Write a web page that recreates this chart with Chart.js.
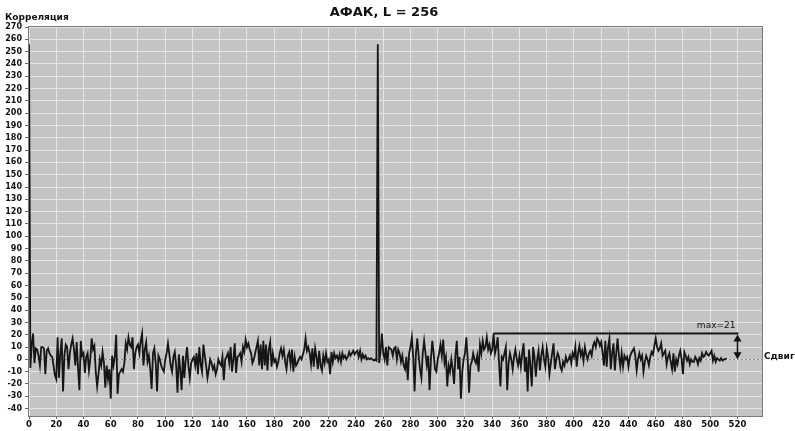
<!DOCTYPE html>
<html><head><meta charset="utf-8">
<script src="https://cdn.jsdelivr.net/npm/chart.js@4/dist/chart.umd.min.js"></script>
<style>html,body{margin:0;padding:0;background:#fff}#wrap{width:795px;height:431px;position:relative}</style>
</head><body><div id="wrap"><canvas id="c" width="795" height="431"></canvas></div>
<script>
const chartTitle = 'АФАК, L = 256';
const yAxisTitle = 'Корреляция';
const xAxisTitle = 'Сдвиг';
const maxLabel = 'max=21';

const correlation = [
  256, -7, 12, 21, -3, 9, 8, 3, -5, 10,   10, 9, -12, 7, 9, 5, 3, 2, -5, -13,
  -16, 18, -15, 5, 17, -26, 3, 12, 10, -8,   5, 12, 17, 8, -5, 14, -7, -25, 15, 3,
  5, -11, 2, 5, -9, 0, 17, 8, 11, -10,   -22, -12, 0, -5, 6, -3, -23, -5, -16, -8,
  -32, 3, -5, 2, 20, -28, -12, -10, -8, -10,   -3, 13, 8, 18, 12, 10, 18, -8, 5, 10,
  12, 5, 15, 21, -5, 8, 14, -2, 3, -8,   -24, 5, 9, -3, -26, 3, 0, -5, -8, -10,
  0, 5, 13, 4, -5, -10, 2, 6, -5, -27,   4, -8, -25, 3, -15, 0, 10, -5, -15, -3,
  0, 2, -5, 5, -12, 10, -4, -10, 12, 3,   -5, -15, -8, 0, -3, -8, -5, -12, -8, 0,
  -3, -5, 2, -17, 0, 2, 5, -3, 10, -10,   0, 13, -11, 2, 3, 5, -2, 10, 6, 16,
  10, 13, 8, 5, -3, 0, 5, 10, 15, -5,   12, -8, 15, -5, 12, -9, 8, 14, -6, 5,
  -2, 0, -6, -2, 5, 9, 3, 8, -2, -8,   3, 6, -4, 8, -10, 2, -5, -3, 0, 2,
  0, 4, 8, 17, 7, 10, 5, -4, 9, -6,   9, 2, -8, 7, -5, -9, 3, -3, 5, -2,
  0, -12, 6, -2, 5, 1, 3, -1, 4, -2,   5, 1, 3, 0, 2, 6, 3, 5, 7, 4,
  6, 7, 2, 7, 0, 4, 1, 3, 0, 1,   0, 1, 0, -1, 0, -1, 256, -3, 6, 21,
  5, 0, 10, -5, 10, 9, 8, 3, 9, 10,   0, 8, 5, -2, 3, -5, -8, 2, -17, 5,
  10, 18, 2, -26, 5, 17, 3, -8, -15, 5,   15, 5, -5, 3, -25, 0, 15, 5, -8, -10,
  0, 5, 12, 3, 16, -3, 2, -22, -5, -10,   0, -8, -20, 3, 15, -8, 2, -32, -10, 0,
  5, 18, 0, -27, -5, -2, 5, 0, -3, 3,   -10, 12, 5, 15, 8, 10, 18, 8, 12, 5,
  8, 21, 5, 10, 18, -3, -22, 2, 0, 5,   10, -25, -3, 5, 0, -8, 2, 8, 0, -5,
  3, -6, 5, 13, -10, 2, -26, 8, -5, -22,   10, 2, -14, 0, 7, -9, 3, 10, 0, -6,
  9, 2, -12, -3, 5, 13, -8, 0, 5, 2,   -6, -9, -2, -5, 2, -2, 0, 3, -3, 5,
  2, 10, -6, 5, 11, 3, 7, -1, 10, 4,   0, 5, 7, 3, 11, 14, 10, 17, 15, 11,
  14, 5, -5, 15, -6, 10, 17, -8, 5, 13,   -9, 5, 17, 3, -6, 5, -6, 3, 0, 2,
  -6, 2, 5, 7, 9, 3, -9, 0, 5, 0,   3, -10, -2, 3, 0, -5, 2, 6, 4, 11,
  17, 10, 7, 9, 13, 3, 5, 7, -4, 2,   5, -2, -8, 5, -10, 0, -4, 3, 7, 0,
  -12, 6, 3, -1, 2, -4, 0, -2, -2, 2,   0, -4, 1, -1, 5, 2, 3, 6, 4, 3,
  5, 7, -1, 3, -2, 1, 0, -1, 1, -1,   0, 0, 1
];
const shifts = correlation.map((_, i) => i);

const xTickValues = [0, 20, 40, 60, 80, 100, 120, 140, 160, 180, 200, 220, 240, 260,
  280, 300, 320, 340, 360, 380, 400, 420, 440, 460, 480, 500, 520];
const yTickValues = [-40, -30, -20, -10, 0, 10, 20, 30, 40, 50, 60, 70, 80, 90, 100,
  110, 120, 130, 140, 150, 160, 170, 180, 190, 200, 210, 220, 230, 240, 250, 260, 270];

const xMin = 0, xMax = 538;
const yMin = -46, yMax = 270;
const maxLevel = 21, maxFrom = 341, maxTo = 520;

const FONT = 'DejaVu Sans';

const decor = {
  id: 'decor',
  beforeDraw(chart) {
    const {ctx, chartArea: a} = chart;
    ctx.save();
    ctx.fillStyle = '#c4c4c4';
    ctx.fillRect(a.left, a.top, a.right - a.left, a.bottom - a.top);
    ctx.restore();
  },
  beforeDatasetsDraw(chart) {
    const {ctx, chartArea: a, scales: {y}} = chart;
    const y0 = Math.round(y.getPixelForValue(0)) + 0.5;
    ctx.save();
    ctx.strokeStyle = '#8a8a8a';
    ctx.lineWidth = 1;
    ctx.setLineDash([2, 2]);
    ctx.beginPath(); ctx.moveTo(a.left, y0); ctx.lineTo(a.right, y0); ctx.stroke();
    ctx.restore();
  },
  afterDatasetsDraw(chart) {
    const {ctx, scales: {x, y}} = chart;
    const yl = y.getPixelForValue(maxLevel), y0 = y.getPixelForValue(0);
    const xa = x.getPixelForValue(maxFrom), xb = x.getPixelForValue(maxTo);
    ctx.save();
    ctx.strokeStyle = '#111'; ctx.fillStyle = '#111';
    ctx.lineWidth = 2;
    ctx.beginPath(); ctx.moveTo(xa, yl); ctx.lineTo(xb + 1, yl); ctx.stroke();
    ctx.lineWidth = 1.5;
    ctx.beginPath(); ctx.moveTo(xb, yl + 4); ctx.lineTo(xb, y0 - 4); ctx.stroke();
    ctx.beginPath(); ctx.moveTo(xb, yl + 1); ctx.lineTo(xb - 4, yl + 8); ctx.lineTo(xb + 4, yl + 8); ctx.closePath(); ctx.fill();
    ctx.beginPath(); ctx.moveTo(xb, y0); ctx.lineTo(xb - 4, y0 - 7); ctx.lineTo(xb + 4, y0 - 7); ctx.closePath(); ctx.fill();
    ctx.font = '9px ' + FONT;
    ctx.textAlign = 'right'; ctx.textBaseline = 'alphabetic';
    ctx.fillText(maxLabel, xb - 2, yl - 6);
    ctx.restore();
  },
  afterDraw(chart) {
    const {ctx, chartArea: a, scales: {y}} = chart;
    ctx.save();
    ctx.strokeStyle = '#7a7a7a'; ctx.lineWidth = 1;
    ctx.strokeRect(a.left - 0.5, a.top - 0.5, a.right - a.left + 1, a.bottom - a.top + 1);
    ctx.fillStyle = '#111';
    ctx.font = 'bold 13px ' + FONT;
    ctx.textAlign = 'center'; ctx.textBaseline = 'middle';
    ctx.fillText(chartTitle, 384, 13);
    ctx.font = 'bold 9px ' + FONT;
    ctx.textAlign = 'left'; ctx.textBaseline = 'middle';
    ctx.fillText(yAxisTitle, 5, 18);
    ctx.fillText(xAxisTitle, 764, y.getPixelForValue(0) - 3);
    ctx.restore();
  }
};

new Chart(document.getElementById('c'), {
  type: 'line',
  data: {
    datasets: [{
      data: shifts.map((s, i) => ({x: s, y: correlation[i]})),
      borderColor: '#151515',
      borderWidth: 1.8,
      pointRadius: 0,
      tension: 0,
      fill: false
    }]
  },
  options: {
    responsive: false,
    animation: false,
    devicePixelRatio: 1,
    layout: {padding: {top: 27, right: 33, left: 0, bottom: 0}},
    plugins: {legend: {display: false}, tooltip: {enabled: false}, title: {display: false}},
    scales: {
      x: {
        type: 'linear', min: xMin, max: xMax,
        afterBuildTicks: s => { s.ticks = xTickValues.map(v => ({value: v})); },
        afterFit: s => { s.height = 15; },
        ticks: {autoSkip: false, maxRotation: 0, padding: 1,
                color: '#111', font: {family: FONT, size: 8.5, weight: 'bold'}},
        grid: {color: '#e4e4e4', lineWidth: 1, tickLength: 3, tickColor: '#666'},
        border: {display: false}
      },
      y: {
        min: yMin, max: yMax,
        afterBuildTicks: s => { s.ticks = yTickValues.map(v => ({value: v})); },
        afterFit: s => { s.width = 29; },
        ticks: {autoSkip: false, padding: 3,
                color: '#111', font: {family: FONT, size: 8, weight: 'bold'}},
        grid: {color: '#e4e4e4', lineWidth: 1, tickLength: 4, tickColor: '#666'},
        border: {display: false}
      }
    }
  },
  plugins: [decor]
});
</script>
</body></html>
